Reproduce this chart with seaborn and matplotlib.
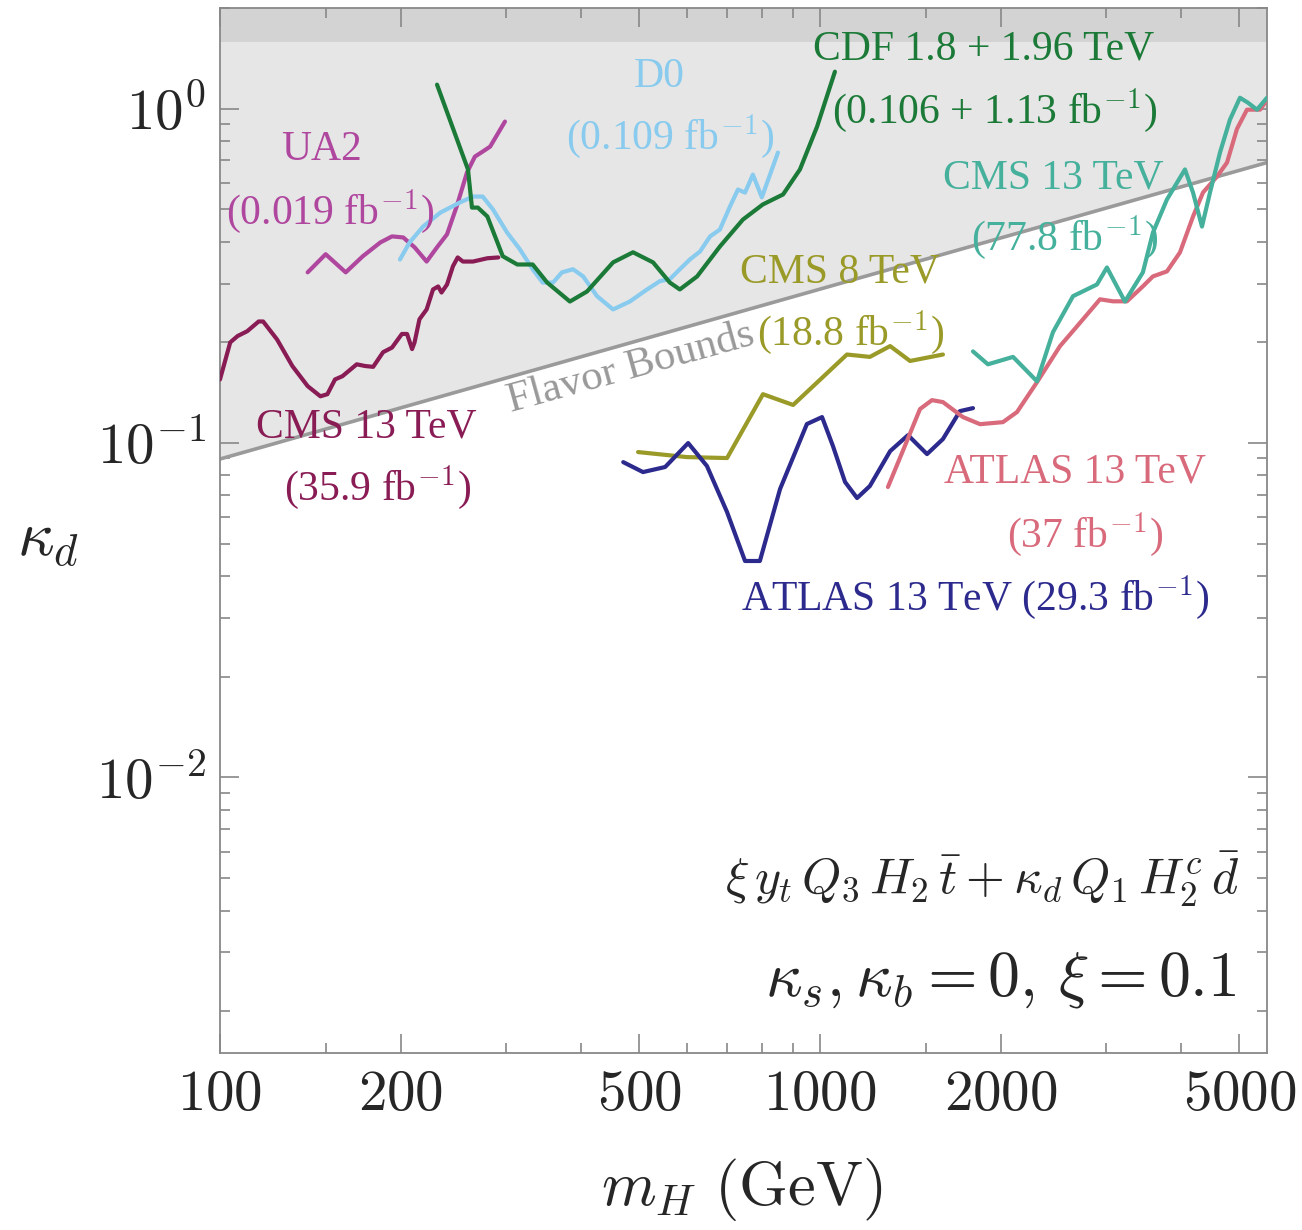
import numpy as np
import pandas as pd
import seaborn as sns
import matplotlib.pyplot as plt
from matplotlib.ticker import FixedLocator, FixedFormatter, LogLocator, NullFormatter

# limits (m_H in GeV, kappa_d)
cms13_359_m = [100, 104, 107, 111, 116, 118, 124.5, 132, 140, 147, 151, 155.5, 160, 169, 174.5, 180, 187,
               193.5, 201, 205, 209, 211, 215, 221, 226.5, 231, 234, 239, 244.5, 249, 254, 264, 279, 291]
cms13_359_k = [0.155, 0.200, 0.209, 0.216, 0.231, 0.231, 0.204, 0.170, 0.148, 0.138, 0.140, 0.155, 0.1585,
               0.172, 0.170, 0.169, 0.187, 0.193, 0.212, 0.212, 0.191, 0.200, 0.2345, 0.251, 0.288, 0.294,
               0.282, 0.298, 0.338, 0.359, 0.349, 0.349, 0.357, 0.359]

ua2_m = [140, 150, 162, 173, 185, 193.5, 202, 211, 221, 230, 239, 248, 258, 266, 274, 282, 298.5]
ua2_k = [0.324, 0.367, 0.324, 0.362, 0.398, 0.415, 0.412, 0.385, 0.349, 0.385, 0.421, 0.510, 0.644,
         0.719, 0.744, 0.770, 0.915]

d0_m = [199.5, 207, 218, 233, 251, 264, 274, 285, 301, 316, 332, 345, 359, 371.5, 387.5, 403, 425, 452,
        482, 515, 541, 562, 584, 607, 631, 656, 681, 708, 730, 750, 773, 800, 851]
d0_k = [0.354, 0.398, 0.444, 0.489, 0.524, 0.546, 0.546, 0.500, 0.426, 0.380, 0.331, 0.302, 0.302, 0.324,
        0.331, 0.315, 0.275, 0.251, 0.265, 0.288, 0.305, 0.309, 0.331, 0.354, 0.374, 0.415, 0.435, 0.510,
        0.573, 0.561, 0.635, 0.543, 0.739]

cdf_m = [230, 259, 263, 269, 279, 296, 313, 332, 351, 383, 409, 452, 488, 527, 562, 584, 624, 681, 744,
         803, 868, 926, 989, 1059]
cdf_k = [1.18, 0.658, 0.506, 0.506, 0.476, 0.362, 0.342, 0.342, 0.302, 0.265, 0.284, 0.347, 0.372, 0.347,
         0.302, 0.288, 0.315, 0.387, 0.466, 0.517, 0.554, 0.658, 0.884, 1.29]

cms8_m = [497.5, 600, 700, 803.5, 902, 1109, 1211, 1309, 1413, 1603]
cms8_k = [0.094, 0.0908, 0.0902, 0.140, 0.130, 0.184, 0.181, 0.195, 0.176, 0.184]

atlas293_m = [470, 507, 552, 603, 648, 700, 750, 794, 858, 951, 1008, 1051, 1101, 1153, 1211, 1309, 1402,
              1508, 1603, 1711, 1799]
atlas293_k = [0.0877, 0.0819, 0.0848, 0.100, 0.0854, 0.0622, 0.0444, 0.0444, 0.0729, 0.114, 0.1196, 0.098,
              0.0765, 0.0685, 0.0744, 0.0946, 0.1056, 0.0927, 0.1028, 0.1246, 0.1272]

atlas37_m = [1298, 1396, 1468, 1537, 1603, 1731, 1848, 2018, 2130, 2300, 2512, 2682, 2929, 3078, 3248, 3453,
             3589, 3787, 3981, 4186, 4349, 4589, 4769, 4955, 5149, 5270, 5413, 5518]
atlas37_k = [0.0739, 0.1014, 0.1264, 0.1344, 0.1326, 0.1196, 0.1139, 0.1155, 0.1238, 0.1521, 0.1949, 0.2235,
             0.2691, 0.2654, 0.2654, 0.2942, 0.3151, 0.3261, 0.3716, 0.476, 0.5614, 0.6266, 0.6898, 0.87,
             0.9931, 0.9931, 0.9931, 1.042]

cms13_778_m = [1799, 1905, 2098, 2300, 2445, 2641, 2895, 3008, 3223, 3453, 3589, 3787, 4058, 4186, 4332,
               4467, 4642, 4823, 5012, 5168, 5350, 5559]
cms13_778_k = [0.188, 0.172, 0.181, 0.153, 0.2145, 0.275, 0.298, 0.335, 0.265, 0.324, 0.426, 0.535, 0.658,
               0.561, 0.444, 0.561, 0.739, 0.927, 1.078, 1.042, 0.993, 1.078]

flavor_m = [100, 5560]
flavor_k = [0.0896, 0.69]
nonpert_k = 1.58

x_ticks = [100, 200, 500, 1000, 2000, 5000]
x_ticklabels = ["$100$", "$200$", "$500$", "$1000$", "$2000$", "$5000$"]
x_minor = [150, 300, 400, 600, 700, 800, 900, 1500, 3000, 4000]
y_ticks = [0.01, 0.1, 1]
y_ticklabels = [r"$10^{-2}$", r"$10^{-1}$", r"$10^{0}$"]

curves = {
    "cms13_359": (cms13_359_m, cms13_359_k),
    "ua2": (ua2_m, ua2_k),
    "d0": (d0_m, d0_k),
    "cdf": (cdf_m, cdf_k),
    "cms8": (cms8_m, cms8_k),
    "atlas293": (atlas293_m, atlas293_k),
    "atlas37": (atlas37_m, atlas37_k),
    "cms13_778": (cms13_778_m, cms13_778_k),
}
colors = {
    "cms13_359": "#8a1c55",
    "ua2": "#b0479f",
    "d0": "#88cbee",
    "cdf": "#1b7a37",
    "cms8": "#9a9a28",
    "atlas293": "#2d2a8e",
    "atlas37": "#d86a7c",
    "cms13_778": "#45b09b",
}

df = pd.concat([pd.DataFrame({"m": m, "kappa": k, "curve": name}) for name, (m, k) in curves.items()],
               ignore_index=True)

sns.set_style("ticks")
plt.rcParams["font.family"] = ["Liberation Serif", "DejaVu Serif"]
plt.rcParams["mathtext.fontset"] = "cm"

fig = plt.figure(figsize=(13.02, 12.30), dpi=100)
ax = fig.add_axes([0.16897, 0.1439, 0.80415, 0.8496])
ax.set_xscale("log")
ax.set_yscale("log")
ax.set_xlim(100, 5560)
ax.set_ylim(0.0015, 2.0)

# excluded regions
ax.fill_between(flavor_m, flavor_k, 2.0, color="#e6e6e6", lw=0, zorder=0)
ax.axhspan(nonpert_k, 2.0, color="#d3d3d3", lw=0, zorder=0)
ax.plot(flavor_m, flavor_k, color="#9a9a9a", lw=2.6, zorder=1)

sns.lineplot(data=df, x="m", y="kappa", hue="curve", palette=colors, sort=False, estimator=None,
             linewidth=3.0, legend=False, ax=ax, zorder=3)

txt = dict(transform=ax.transAxes, ha="center", va="center", fontsize=30)
ax.text(0.0965, 0.864, "UA2", color=colors["ua2"], **txt)
ax.text(0.105, 0.805, "(0.019 fb$^{-1}$)", color=colors["ua2"], **txt)
ax.text(0.420, 0.934, "D0", color=colors["d0"], **txt)
ax.text(0.430, 0.877, "(0.109 fb$^{-1}$)", color=colors["d0"], **txt)
ax.text(0.729, 0.961, "CDF 1.8 + 1.96 TeV", color=colors["cdf"], **txt)
ax.text(0.740, 0.902, "(0.106 + 1.13 fb$^{-1}$)", color=colors["cdf"], **txt)
ax.text(0.796, 0.837, "CMS 13 TeV", color=colors["cms13_778"], **txt)
ax.text(0.807, 0.780, "(77.8 fb$^{-1}$)", color=colors["cms13_778"], **txt)
ax.text(0.592, 0.747, "CMS 8 TeV", color=colors["cms8"], **txt)
ax.text(0.602, 0.689, "(18.8 fb$^{-1}$)", color=colors["cms8"], **txt)
ax.text(0.140, 0.599, "CMS 13 TeV", color=colors["cms13_359"], **txt)
ax.text(0.151, 0.541, "(35.9 fb$^{-1}$)", color=colors["cms13_359"], **txt)
ax.text(0.817, 0.556, "ATLAS 13 TeV", color=colors["atlas37"], **txt)
ax.text(0.826, 0.496, "(37 fb$^{-1}$)", color=colors["atlas37"], **txt)
ax.text(0.721, 0.436, "ATLAS 13 TeV (29.3 fb$^{-1}$)", color=colors["atlas293"], **txt)
ax.text(0.392, 0.655, "Flavor Bounds", color="#999999", rotation=15.5, rotation_mode="anchor",
        transform=ax.transAxes, ha="center", va="center", fontsize=31)

ax.text(0.974, 0.166, r"$\xi\, y_t\, Q_3\, H_2\, \bar{t} + \kappa_d\, Q_1\, H_2^c\, \bar{d}$",
        transform=ax.transAxes, ha="right", va="center", fontsize=36)
ax.text(0.971, 0.070, r"$\kappa_s, \kappa_b = 0,\, \xi = 0.1$",
        transform=ax.transAxes, ha="right", va="center", fontsize=46)

ax.xaxis.set_major_locator(FixedLocator(x_ticks))
ax.xaxis.set_major_formatter(FixedFormatter(x_ticklabels))
ax.xaxis.set_minor_locator(FixedLocator(x_minor))
ax.xaxis.set_minor_formatter(NullFormatter())
ax.yaxis.set_major_locator(FixedLocator(y_ticks))
ax.yaxis.set_major_formatter(FixedFormatter(y_ticklabels))
ax.yaxis.set_minor_locator(LogLocator(base=10, subs=np.arange(2, 10)))
ax.yaxis.set_minor_formatter(NullFormatter())
ax.tick_params(which="both", direction="in", top=True, right=True, color="#888888", width=1.2,
               labelsize=41)
ax.tick_params(which="major", length=14)
ax.tick_params(which="minor", length=7)
ax.tick_params(axis="x", pad=12)
ax.tick_params(axis="y", pad=10)
for s in ax.spines.values():
    s.set_color("#888888")
    s.set_linewidth(1.3)

ax.set_xlabel(r"$m_H\ (\mathrm{GeV})$", fontsize=45, va="center")
ax.xaxis.set_label_coords(0.4986, -0.131)
ax.set_ylabel(r"$\kappa_d$", fontsize=46, rotation=0, ha="center", va="center")
ax.yaxis.set_label_coords(-0.164, 0.49)

fig.savefig("out.png", dpi=100)
